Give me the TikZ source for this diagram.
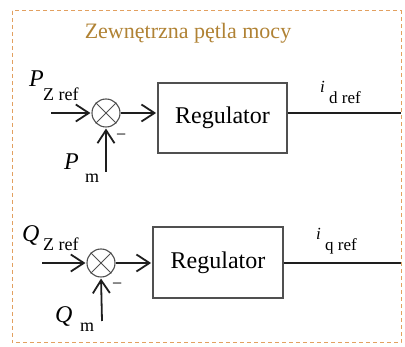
\documentclass[tikz,border=0pt]{standalone}
\usepackage{fontspec}
\setmainfont{Liberation Serif}
\usetikzlibrary{arrows.meta,calc}
\definecolor{titlecol}{RGB}{176,130,52}
\definecolor{bordercol}{RGB}{226,160,96}
\definecolor{linecol}{RGB}{30,30,30}
\definecolor{boxcol}{RGB}{80,80,80}
\tikzset{
  sig/.style={draw=linecol, line width=1.8pt, -{Straight Barb[length=13pt,width=17pt,line width=1.8pt,sep=1pt]}},
  plainsig/.style={draw=linecol, line width=1.8pt},
  regbox/.style={draw=boxcol, line width=1.8pt, inner sep=0pt, font=\fontsize{24}{28}\selectfont},
  sumnode/.style={draw=boxcol, line width=1.1pt, circle, minimum size=28pt, inner sep=0pt},
  lbl/.style={inner sep=0pt, anchor=base west},
  big/.style={lbl, font=\fontsize{24}{28}\selectfont\itshape},
  sub/.style={lbl, font=\fontsize{18}{20}\selectfont},
  ivar/.style={lbl, font=\fontsize{17}{20}\selectfont\itshape},
}
\begin{document}
\begin{tikzpicture}[x=1pt,y=-1pt]
\useasboundingbox (0,0) rectangle (405,347);
\draw[bordercol, line width=1pt, dash pattern=on 4pt off 3pt] (12,11) rectangle (401,343);
\node[inner sep=0pt, anchor=base, text=titlecol, font=\fontsize{22}{26}\selectfont] (title) at (188,38.5) {Zewnętrzna pętla mocy};

% top row
\node[sumnode] (s1) at (106,113) {};
\draw[boxcol, line width=1pt] (s1.45) -- (s1.225) (s1.135) -- (s1.-45);
\node[regbox, minimum width=129pt, minimum height=70pt] (b1) at (222.5,118) {Regulator};
\coordinate (pin1) at (51,113);
\coordinate (pm1) at (106,172);
\coordinate (out1) at (401,113);
\draw[sig] (pin1) -- (s1.west);
\draw[sig] (s1.east) -- (s1.east -| b1.west);
\draw[sig] (pm1) -- (s1.south);
\draw[plainsig] (out1 -| b1.east) -- (out1);
\node[lbl, font=\fontsize{18}{20}\selectfont] (mn1) at (116,141) {−};
\node[big] (P1) at (29,87) {P};
\node[sub] (P1s) at (43,101) {Z ref};
\node[big] (Pm) at (64,170) {P};
\node[sub] (Pms) at (85,183) {m};
\node[ivar] (id) at (320,93) {i};
\node[sub, font=\fontsize{17}{19}\selectfont] (ids) at (329,104) {d ref};

% bottom row
\node[sumnode] (s2) at (101,263) {};
\draw[boxcol, line width=1pt] (s2.45) -- (s2.225) (s2.135) -- (s2.-45);
\node[regbox, minimum width=130pt, minimum height=71pt] (b2) at (218,262.5) {Regulator};
\coordinate (pin2) at (42,263);
\coordinate (pm2) at (102,321);
\coordinate (out2) at (401,263);
\draw[sig] (pin2) -- (s2.west);
\draw[sig] (s2.east) -- (s2.east -| b2.west);
\draw[sig] (pm2) -- (s2.south);
\draw[plainsig] (out2 -| b2.east) -- (out2);
\node[lbl, font=\fontsize{18}{20}\selectfont] (mn2) at (112,290) {−};
\node[big] (Q1) at (22,242) {Q};
\node[sub] (Q1s) at (43,251) {Z ref};
\node[big] (Qm) at (55,323) {Q};
\node[sub] (Qms) at (80,332) {m};
\node[ivar] (iq) at (316,240) {i};
\node[sub, font=\fontsize{17}{19}\selectfont] (iqs) at (325,251) {q ref};
\end{tikzpicture}
\end{document}
